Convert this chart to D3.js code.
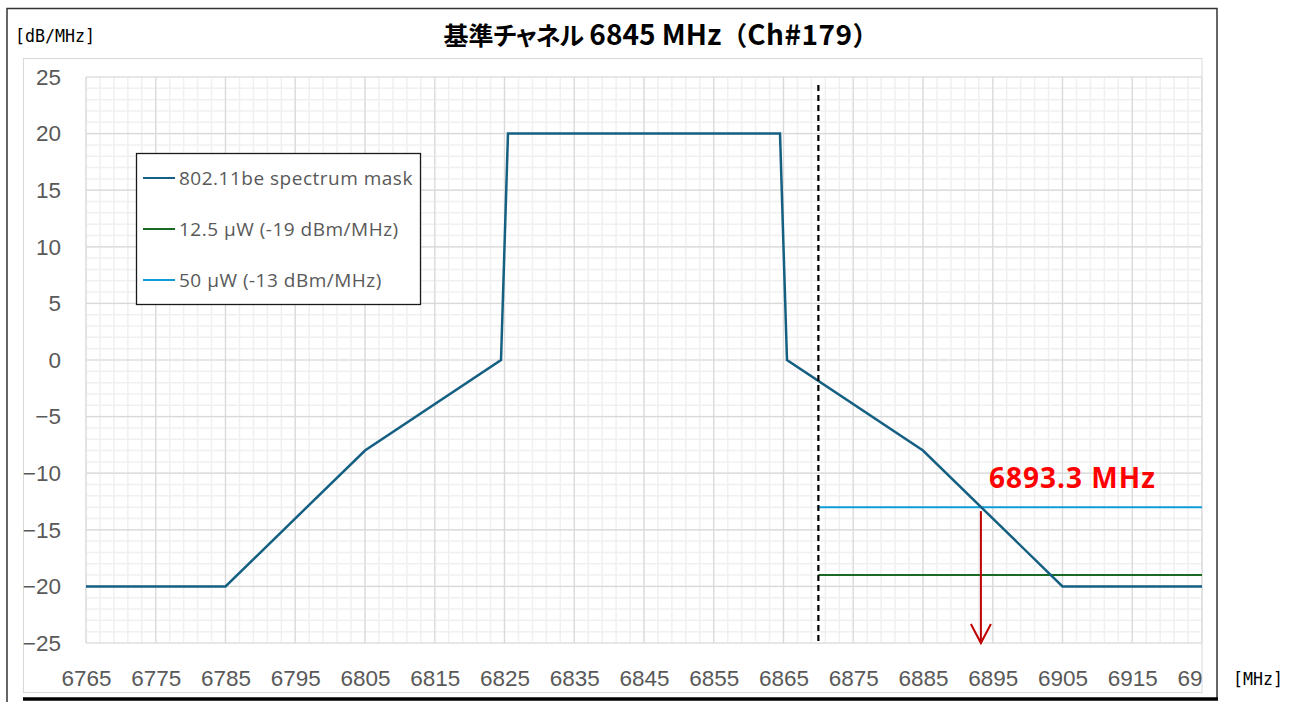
<!DOCTYPE html>
<html>
<head>
<meta charset="utf-8">
<script src="https://cdn.jsdelivr.net/npm/d3@7"></script>
<style>
  html, body { margin: 0; padding: 0; background: #fff; }
  svg { display: block; }
</style>
</head>
<body>
<svg id="chart" width="1298" height="702"></svg>
<script>
// ---- data ----
const titleParts = ["基準", "チャネル", " 6845 MHz", "（", "Ch#179", "）"];
const yUnit = "[dB/MHz]";
const xUnit = "[MHz]";
const xTicks = [6765, 6775, 6785, 6795, 6805, 6815, 6825, 6835, 6845, 6855, 6865, 6875, 6885, 6895, 6905, 6915, 6925];
const yTicks = [25, 20, 15, 10, 5, 0, -5, -10, -15, -20, -25];
const maskFreq = [6765, 6785, 6805, 6824.5, 6825.5, 6864.5, 6865.5, 6885, 6905, 6925];
const maskLevel = [-20, -20, -8, 0, 20, 20, 0, -8, -20, -20];
const limitFreq = [6870, 6925];
const limit125Level = [-19, -19];
const limit50Level = [-13, -13];
const edgeFreq = 6870;
const edgeLevels = [24.3, -25];
const crossFreq = 6893.3;
const crossLevels = [-13, -25];
const crossLabel = "6893.3 MHz";
const legendNames = ["802.11be spectrum mask", "12.5 μW (-19 dBm/MHz)", "50 μW (-13 dBm/MHz)"];
const colors = ["#156082", "#196B24", "#0F9ED5"];

// ---- layout ----
const svg = d3.select("#chart");
const L = 86, R = 1202, T = 77, B = 643;
const x = d3.scaleLinear().domain([6765, 6925]).range([L, R]);
const y = d3.scaleLinear().domain([-25, 25]).range([B, T]);

// outer frame
svg.append("path").attr("d", "M7,702 L7,8.5 L1217,8.5 L1217,700")
  .attr("fill", "none").attr("stroke", "#333").attr("stroke-width", 1.5);
svg.append("line").attr("x1", 23).attr("x2", 1218).attr("y1", 699).attr("y2", 699)
  .attr("stroke", "#000").attr("stroke-width", 3.5);
// chart area border
svg.append("rect").attr("x", 23.5).attr("y", 58.5).attr("width", R - 23.5).attr("height", 634)
  .attr("fill", "none").attr("stroke", "#d9d9d9").attr("stroke-width", 1);

// minor grid
const gGrid = svg.append("g");
gGrid.selectAll(".vmin").data(d3.range(6765, 6926, 2)).join("line")
  .attr("x1", d => x(d)).attr("x2", d => x(d)).attr("y1", T).attr("y2", B)
  .attr("stroke", "#f0f0f0").attr("stroke-width", 1.5);
gGrid.selectAll(".hmin").data(d3.range(-25, 26, 1)).join("line")
  .attr("x1", L).attr("x2", R).attr("y1", d => y(d)).attr("y2", d => y(d))
  .attr("stroke", "#f0f0f0").attr("stroke-width", 1.5);
// major grid
gGrid.selectAll(".vmaj").data(xTicks).join("line")
  .attr("x1", d => x(d)).attr("x2", d => x(d)).attr("y1", T).attr("y2", B)
  .attr("stroke", "#d9d9d9").attr("stroke-width", 1.2);
gGrid.selectAll(".hmaj").data(yTicks).join("line")
  .attr("x1", L).attr("x2", R).attr("y1", d => y(d)).attr("y2", d => y(d))
  .attr("stroke", "#d9d9d9").attr("stroke-width", 1.2);

// clip for x labels
svg.append("clipPath").attr("id", "clipx").append("rect")
  .attr("x", 24).attr("y", 640).attr("width", R - 24).attr("height", 52);

// axes
const xWrap = svg.append("g").attr("clip-path", "url(#clipx)");
const xAxis = xWrap.append("g").attr("transform", `translate(0,${B})`)
  .call(d3.axisBottom(x).tickValues(xTicks).tickFormat(d3.format("d")).tickSize(0).tickPadding(27));
xAxis.select(".domain").remove();
xAxis.selectAll("text").attr("font-family", "'Liberation Sans', Arial, sans-serif")
  .attr("font-size", 22.5).attr("fill", "#595959");

const yAxis = svg.append("g").attr("transform", `translate(${L},0)`)
  .call(d3.axisLeft(y).tickValues(yTicks).tickFormat(d3.format("d")).tickSize(0).tickPadding(25));
yAxis.select(".domain").remove();
yAxis.selectAll("text").attr("font-family", "'Liberation Sans', Arial, sans-serif")
  .attr("font-size", 22.5).attr("fill", "#595959");

// lines
const line = d3.line().x(d => x(d[0])).y(d => y(d[1]));
svg.append("path").datum(limitFreq.map((f, i) => [f, limit50Level[i]]))
  .attr("d", line).attr("fill", "none").attr("stroke", colors[2]).attr("stroke-width", 2);
svg.append("path").datum(limitFreq.map((f, i) => [f, limit125Level[i]]))
  .attr("d", line).attr("fill", "none").attr("stroke", colors[1]).attr("stroke-width", 2);
svg.append("path").datum(maskFreq.map((f, i) => [f, maskLevel[i]]))
  .attr("d", line).attr("fill", "none").attr("stroke", colors[0]).attr("stroke-width", 2.5)
  .attr("stroke-linejoin", "miter");

// dashed reference line
svg.append("line")
  .attr("x1", x(edgeFreq)).attr("x2", x(edgeFreq))
  .attr("y1", y(edgeLevels[0])).attr("y2", y(edgeLevels[1]))
  .attr("stroke", "#000").attr("stroke-width", 2.2).attr("stroke-dasharray", "6,4");

// red arrow
const ax = x(crossFreq);
svg.append("line").attr("x1", ax).attr("x2", ax)
  .attr("y1", y(crossLevels[0]) + 4).attr("y2", y(crossLevels[1]))
  .attr("stroke", "#C00000").attr("stroke-width", 2);
svg.append("path")
  .attr("d", `M${ax - 10},${y(crossLevels[1]) - 19} L${ax},${y(crossLevels[1])} L${ax + 10},${y(crossLevels[1]) - 19}`)
  .attr("fill", "none").attr("stroke", "#C00000").attr("stroke-width", 2);
svg.append("text").attr("x", 989).attr("y", 488)
  .attr("font-family", "'Open Sans', 'Noto Sans', sans-serif").attr("font-weight", "bold")
  .attr("font-size", 28).attr("letter-spacing", 1).attr("fill", "#FF0000").text(crossLabel);

// legend
const lg = svg.append("g");
lg.append("rect").attr("x", 136.5).attr("y", 153.5).attr("width", 284).attr("height", 151)
  .attr("fill", "#fff").attr("stroke", "#1a1a1a").attr("stroke-width", 1.3);
legendNames.forEach((name, i) => {
  const ly = 178 + i * 51;
  lg.append("line").attr("x1", 143).attr("x2", 175).attr("y1", ly).attr("y2", ly)
    .attr("stroke", colors[i]).attr("stroke-width", 2);
  lg.append("text").attr("x", 179).attr("y", ly).attr("dy", "0.35em")
    .attr("font-family", "'Open Sans', sans-serif").attr("font-size", 19).attr("letter-spacing", 0.5)
    .attr("fill", "#595959").text(name);
});

// title and units
const title = svg.append("text").attr("x", 661).attr("y", 45).attr("text-anchor", "middle")
  .attr("font-family", "'Noto Sans CJK JP', sans-serif").attr("font-weight", "bold")
  .attr("fill", "#000");
const titleStyle = [
  { size: 25, palt: false, ls: 0 },
  { size: 25, palt: true, ls: -1 },
  { size: 28, palt: false, ls: 0 },
  { size: 26, palt: false, ls: 0 },
  { size: 28, palt: false, ls: 0.5 },
  { size: 26, palt: false, ls: 0 }
];
titleParts.forEach((p, i) => {
  const s = titleStyle[i];
  title.append("tspan").attr("font-size", s.size).attr("letter-spacing", s.ls)
    .style("font-feature-settings", s.palt ? "'palt'" : "normal").text(p);
});
svg.append("text").attr("x", 15).attr("y", 42)
  .attr("font-family", "'DejaVu Sans Mono', monospace").attr("font-size", 18.5)
  .attr("textLength", 80).attr("lengthAdjust", "spacingAndGlyphs")
  .attr("fill", "#000").text(yUnit);
svg.append("text").attr("x", 1233).attr("y", 685)
  .attr("font-family", "'DejaVu Sans Mono', monospace").attr("font-size", 18.5)
  .attr("textLength", 50).attr("lengthAdjust", "spacingAndGlyphs")
  .attr("fill", "#000").text(xUnit);
</script>
</body>
</html>
